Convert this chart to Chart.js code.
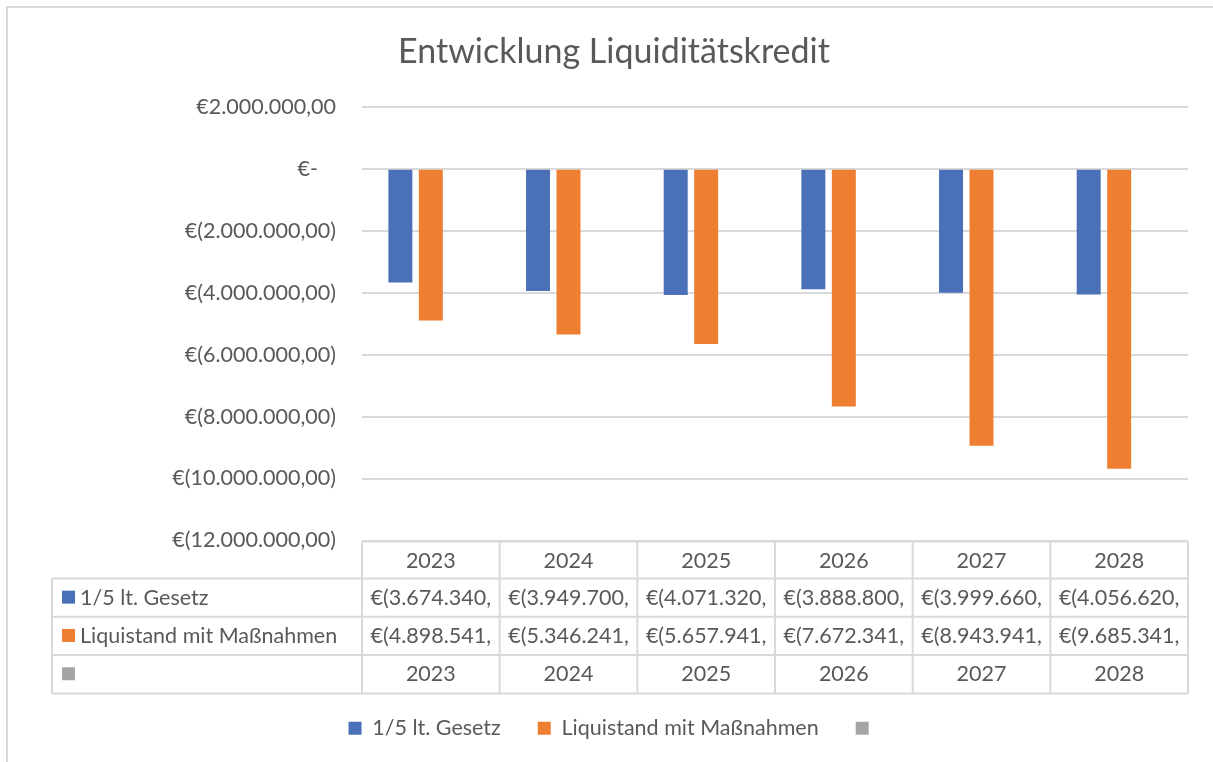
<!DOCTYPE html>
<html><head><meta charset="utf-8">
<script src="https://cdn.jsdelivr.net/npm/chart.js@4"></script>
<style>html,body{margin:0;padding:0;background:#fff;overflow:hidden;}canvas{display:block;}</style>
</head><body>
<canvas id="c" width="1213" height="762"></canvas>
<script>
// ---- data ----
const categories = ['2023', '2024', '2025', '2026', '2027', '2028'];
const seriesNames = ['1/5 lt. Gesetz', 'Liquistand mit Maßnahmen', ''];
const gesetz = [-3674340, -3949700, -4071320, -3888800, -3999660, -4056620];
const liquistand = [-4898541, -5346241, -5657941, -7672341, -8943941, -9685341];
const jahre = [2023, 2024, 2025, 2026, 2027, 2028];
const yTickValues = [2000000, 0, -2000000, -4000000, -6000000, -8000000, -10000000, -12000000];
const titleText = 'Entwicklung Liquiditätskredit';

// ---- style ----
const COLORS = ['#4A71B8', '#EE7E31', '#A5A5A5'];
const TEXT = '#595959';
const GRID = '#D9D9D9';
const FONT = 'Lato, "Liberation Sans", sans-serif';
const FS = 21.5;

function groupDE(n) {
  return String(n).replace(/\B(?=(\d{3})+(?!\d))/g, '.');
}
function accounting(v) {
  if (v === 0) return '€-';
  const a = Math.abs(v);
  const ip = Math.floor(a), fp = Math.round((a - ip) * 100);
  const s = groupDE(ip) + ',' + String(fp).padStart(2, '0');
  return v < 0 ? '€(' + s + ')' : '€' + s;
}
function cellText(v) {
  // Excel clips the accounting value at the cell edge (after the decimal comma)
  const full = accounting(v);
  const k = full.indexOf(',');
  return k >= 0 ? full.slice(0, k + 1) : full;
}

const frame = {
  id: 'frame',
  beforeDraw(chart) {
    const ctx = chart.ctx;
    ctx.save();
    ctx.fillStyle = '#fff';
    ctx.fillRect(0, 0, chart.width, chart.height);
    ctx.strokeStyle = GRID;
    ctx.lineWidth = 2;
    ctx.strokeRect(7, 7, 1240, 800);
    ctx.restore();
  }
};

const dataTable = {
  id: 'dataTable',
  afterDraw(chart) {
    const ctx = chart.ctx;
    const ca = chart.chartArea;
    const xs = chart.scales.x;
    const n = categories.length;
    const colW = (ca.right - ca.left) / n;
    const top = ca.bottom + 1;
    const headH = 37, rowH = 38.3;
    const labelLeft = 52;
    const rows = [gesetz, liquistand, jahre];
    ctx.save();
    ctx.strokeStyle = GRID;
    ctx.lineWidth = 2;
    ctx.beginPath();
    ctx.moveTo(ca.left, top); ctx.lineTo(ca.right, top);
    for (let r = 0; r <= rows.length; r++) {
      const y = top + headH + r * rowH;
      ctx.moveTo(labelLeft, y); ctx.lineTo(ca.right, y);
    }
    const bottom = top + headH + rows.length * rowH;
    ctx.moveTo(labelLeft, top + headH); ctx.lineTo(labelLeft, bottom);
    for (let i = 0; i <= n; i++) {
      const x = ca.left + i * colW;
      ctx.moveTo(x, top); ctx.lineTo(x, bottom);
    }
    ctx.stroke();

    ctx.font = FS + 'px ' + FONT;
    ctx.textBaseline = 'middle';
    rows.forEach((vals, r) => {
      const cy = top + headH + r * rowH + rowH / 2;
      ctx.fillStyle = COLORS[r];
      ctx.fillRect(labelLeft + 10, cy - 7, 13, 13);
      ctx.fillStyle = TEXT;
      ctx.textAlign = 'left';
      ctx.fillText(seriesNames[r], labelLeft + 28, cy);
      ctx.textAlign = 'center';
      vals.forEach((v, i) => {
        const cx = xs.getPixelForValue(i);
        const t = (r === 2) ? String(v) : cellText(v);
        ctx.fillText(t, cx, cy);
      });
    });
    ctx.restore();
  }
};

const PAD_LEFT = 40;

new Chart(document.getElementById('c'), {
  type: 'bar',
  data: {
    labels: categories,
    datasets: [
      { label: seriesNames[0], data: gesetz, backgroundColor: COLORS[0] },
      { label: seriesNames[1], data: liquistand, backgroundColor: COLORS[1] },
      // year series: values are tiny on this scale, so the bars are invisible (as in the source)
      { label: seriesNames[2], data: jahre, backgroundColor: 'rgba(165,165,165,0)' }
    ]
  },
  options: {
    responsive: false,
    animation: false,
    devicePixelRatio: 1,
    datasets: { bar: { barPercentage: 0.787, categoryPercentage: 0.664, borderWidth: 0 } },
    layout: { padding: { left: PAD_LEFT, right: 25, top: 7, bottom: 13 } },
    plugins: {
      title: {
        display: true, text: titleText, color: TEXT,
        font: { family: FONT, size: 34, weight: 'normal' },
        padding: { top: 25, bottom: 34 }
      },
      legend: {
        position: 'bottom',
        labels: {
          color: TEXT, font: { family: FONT, size: FS }, boxWidth: 13, boxHeight: 13, padding: 37,
          generateLabels(chart) {
            return chart.data.datasets.map((ds, i) => ({
              text: ds.label, fillStyle: COLORS[i], strokeStyle: COLORS[i], lineWidth: 0,
              hidden: false, datasetIndex: i, fontColor: TEXT
            }));
          }
        }
      },
      tooltip: { enabled: false }
    },
    scales: {
      x: {
        grid: { display: false },
        border: { display: false },
        ticks: { color: TEXT, font: { family: FONT, size: FS }, padding: 0 },
        afterFit(s) { s.height = 140; }
      },
      y: {
        min: -12000000, max: 2000000,
        afterBuildTicks(s) { s.ticks = yTickValues.map(v => ({ value: v })); },
        grid: { color: GRID, lineWidth: 2, drawTicks: false },
        border: { display: false },
        ticks: {
          color: TEXT, font: { family: FONT, size: FS }, padding: 26,
          callback: (v) => v === 0 ? '€-\u2007 ' : accounting(v)
        },
        afterFit(s) { s.width = 362 - PAD_LEFT; }
      }
    }
  },
  plugins: [frame, dataTable]
});
</script>
</body></html>
